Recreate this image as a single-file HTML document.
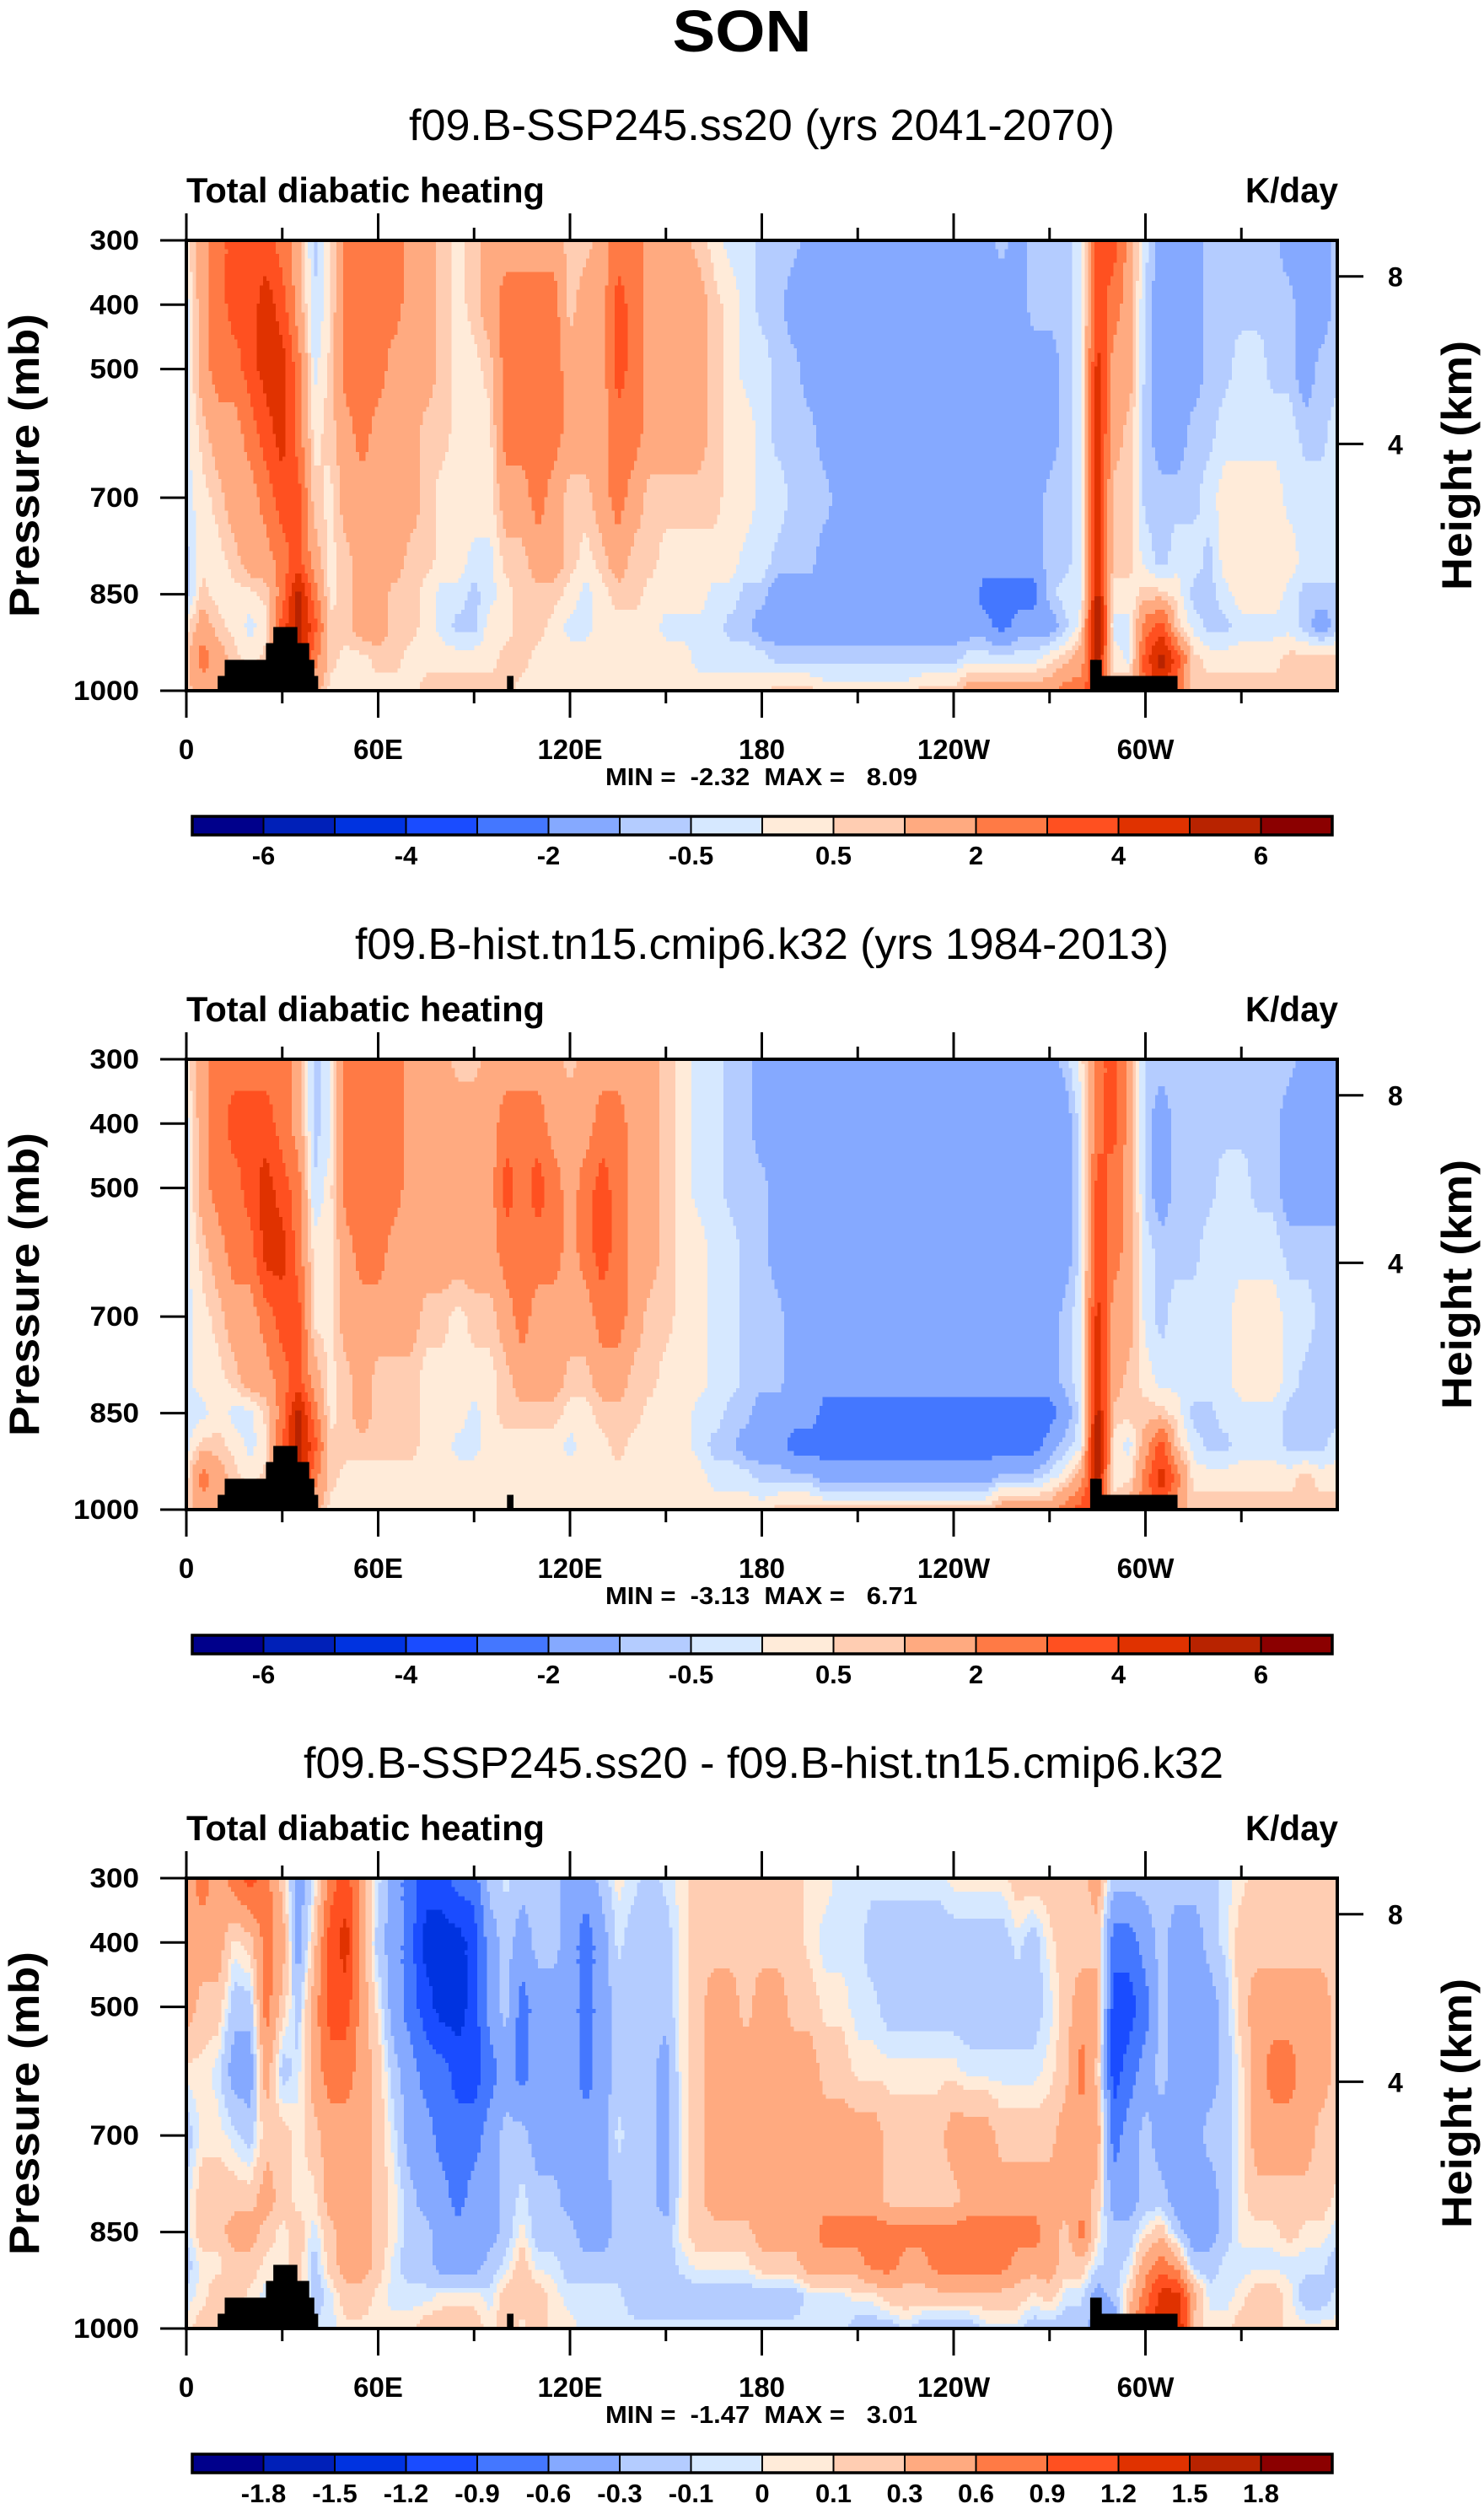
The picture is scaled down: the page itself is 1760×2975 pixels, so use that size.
<!DOCTYPE html>
<html><head><meta charset="utf-8"><title>SON Total diabatic heating</title>
<style>
html,body{margin:0;padding:0;background:#fff;}
svg{display:block;}
text{font-family:"Liberation Sans",Arial,sans-serif;fill:#000;}
</style></head>
<body>
<svg id="fig" xmlns="http://www.w3.org/2000/svg" width="1760" height="2975" viewBox="0 0 1760 2975">
<rect x="0" y="0" width="1760" height="2975" fill="#fff"/>
<text x="880" y="61" font-size="70" font-weight="bold" text-anchor="middle" textLength="165" lengthAdjust="spacingAndGlyphs">SON</text>
</svg>
<script>
// ---------- data ----------
const LEVELS = [300,400,500,600,700,800,850,900,950,1000];
const LON_STEP = 5; // columns at 0,5,...,360
const BOUNDS_ABS = [-6,-5,-4,-3,-2,-1,-0.5,0,0.5,1,2,3,4,5,6];
const BOUNDS_DIFF = [-1.8,-1.5,-1.2,-0.9,-0.6,-0.3,-0.1,0,0.1,0.3,0.6,0.9,1.2,1.5,1.8];
const ABS_LABEL_IDX = [0,2,4,6,8,10,12,14];
const X_TICK_LONS = [0,60,120,180,240,300];
const X_TICK_LABELS = ["0","60E","120E","180","120W","60W"];
const Y_TICKS = [300,400,500,700,850,1000];
const H_TICKS = [8,4];
const COLORS = ["#00008b","#0020b8","#0033e0","#1a4cff","#4477ff","#85a9ff","#b4ccff","#d6e8ff","#ffebd9","#ffcdb2","#ffaa80","#ff7a45","#ff5020","#e03200","#b82300","#8b0000"];
// topography: [lonStart, lonEnd, topPressure]
const TOPO_LON0 = [9.8,12,24.9,27.2,34.6,38.3,39.9,100.3,282.7,286.2];
const TOPO_LON1 = [12,24.9,27.2,34.6,38.3,39.9,41.1,102.2,286.2,309.9];
const TOPO_P = [977,952,926,901,926,952,977,977,952,977];

// columns: each entry = values at LEVELS (300..1000), longitudes 0..360 step 5
const FUT = [
[0.3,-0.2,-0.2,-0.2,-0.2,-0.7,-0.7,0.3,0.7,0.7],
[1.5,1.5,1.5,0.7,0.3,0.3,0.7,1.5,2.5,1.5],
[2.5,2.5,2.5,1.5,0.7,0.3,0.3,0.7,1.5,1.5],
[3.5,3.5,2.5,1.5,1.5,0.7,0.3,0.3,0.7,0.7],
[3.5,3.5,3.5,2.5,1.5,1.5,0.3,-0.2,0.3,0.7],
[3.5,4.5,4.5,3.5,2.5,1.5,0.7,0.3,0.7,0.7],
[2.5,3.5,4.5,4.5,3.5,2.5,2.5,3.5,3.5,3],
[1.5,1.5,2.5,2.5,3.5,3.5,5.5,5.5,5.5,4.5],
[-0.7,-0.5,-0.2,0.3,0.7,1.5,2.5,3.5,2.5,1.5],
[0.3,0.3,0.7,0.7,0.3,0.3,0.3,0.7,0.7,0.3],
[2.5,2.5,2.5,1.5,1.5,0.7,0.7,0.7,0.3,0.3],
[2.5,2.5,2.5,2.5,1.5,1.5,1.5,1.5,0.3,0.3],
[2.5,2.5,2.5,1.5,1.5,1.5,1.5,1.5,0.7,0.3],
[2.5,2.5,1.5,1.5,1.5,1.5,0.7,0.7,0.7,0.3],
[1.5,1.5,1.5,1.5,1.5,0.7,0.7,0.7,0.3,0.3],
[1.5,1.5,1.5,0.7,0.7,0.7,0.3,0.3,0.3,0.7],
[0.7,0.7,0.7,0.7,0.3,0.3,-0.2,-0.2,0.3,0.7],
[0.3,0.3,0.3,0.3,0.3,0.3,-0.2,-0.7,0.3,0.7],
[0.7,0.7,0.3,0.3,0.3,-0.2,-0.7,-0.7,0.3,0.7],
[1.5,1.5,0.7,0.3,0.3,-0.2,-0.2,0.3,0.3,0.7],
[1.5,2.5,2.5,2.5,1.5,0.7,0.3,0.3,0.7,0.7],
[1.5,2.5,2.5,2.5,1.5,0.7,0.7,0.7,0.7,0.3],
[1.5,2.5,2.5,2.5,2.5,1.5,0.7,0.7,0.3,0.3],
[1.5,2.5,2.5,2.5,1.5,1.5,0.7,0.3,0.3,0.3],
[0.7,0.7,1.5,1.5,0.7,0.7,0.3,-0.2,0.3,0.3],
[0.7,1.5,1.5,1.5,0.7,0.3,-0.2,-0.2,0.3,0.3],
[1.5,1.5,1.5,1.5,1.5,0.7,0.3,0.3,0.3,0.3],
[2.5,3.5,3.5,2.5,2.5,1.5,0.7,0.3,0.3,0.3],
[2.5,2.5,2.5,2.5,1.5,0.7,0.7,0.3,0.3,0.3],
[1.5,1.5,1.5,1.5,0.7,0.7,0.3,0.3,0.3,0.3],
[1.5,1.5,1.5,1.5,0.7,0.3,0.3,-0.2,0.3,0.3],
[1.5,1.5,1.5,1.5,0.7,0.3,0.3,-0.2,0.3,0.3],
[0.7,1.5,1.5,1.5,0.7,0.3,0.3,-0.2,-0.2,0.3],
[0.3,0.7,0.7,0.7,0.7,0.3,-0.2,-0.2,-0.2,0.3],
[-0.2,0.3,0.3,0.3,0.3,0.3,-0.2,-0.7,-0.2,0.3],
[-0.2,-0.2,-0.2,0.3,0.3,-0.2,-0.7,-0.7,-0.2,0.3],
[-0.7,-0.7,-0.2,-0.2,-0.2,-0.2,-0.7,-1.5,-0.2,0.3],
[-0.7,-0.7,-0.7,-0.7,-0.2,-0.7,-1.5,-1.5,-0.7,0.7],
[-0.7,-1.5,-0.7,-0.7,-0.7,-0.7,-1.5,-1.5,-0.7,0.7],
[-1.5,-1.5,-1.5,-0.7,-0.7,-0.7,-1.5,-1.5,-0.7,0.7],
[-1.5,-1.5,-1.5,-1.5,-0.7,-1.5,-1.5,-1.5,-0.7,0.3],
[-1.5,-1.5,-1.5,-1.5,-1.5,-1.5,-1.5,-1.5,-0.7,0.3],
[-1.5,-1.5,-1.5,-1.5,-1.5,-1.5,-1.5,-1.5,-0.7,0.3],
[-1.5,-1.5,-1.5,-1.5,-1.5,-1.5,-1.5,-1.5,-0.7,0.3],
[-1.5,-1.5,-1.5,-1.5,-1.5,-1.5,-1.5,-1.5,-0.7,0.3],
[-1.5,-1.5,-1.5,-1.5,-1.5,-1.5,-1.5,-1.5,-0.7,0.3],
[-1.5,-1.5,-1.5,-1.5,-1.5,-1.5,-1.5,-1.5,-0.7,0.7],
[-1.5,-1.5,-1.5,-1.5,-1.5,-1.5,-1.5,-1.5,-0.7,0.7],
[-1.5,-1.5,-1.5,-1.5,-1.5,-1.5,-1.5,-1.5,-0.7,0.7],
[-1.5,-1.5,-1.5,-1.5,-1.5,-1.5,-1.5,-1.5,-0.2,1.5],
[-1.5,-1.5,-1.5,-1.5,-1.5,-1.5,-2.5,-1.5,-0.2,1.5],
[-0.7,-1.5,-1.5,-1.5,-1.5,-1.5,-2.5,-2.5,-0.2,1.5],
[-1.5,-1.5,-1.5,-1.5,-1.5,-1.5,-2.5,-1.5,-0.2,1.5],
[-0.7,-0.7,-1.5,-1.5,-1.5,-1.5,-2.5,-1.5,-0.2,1.5],
[-0.7,-0.7,-1.5,-1.5,-0.7,-0.7,-0.7,-1.5,0.3,1.5],
[-0.7,-0.7,-0.7,-0.7,-0.7,-0.7,-0.2,-0.7,0.7,2.5],
[-0.2,-0.2,-0.2,-0.2,-0.2,-0.2,-0.2,0.3,1.5,2.5],
[3.5,3.5,4.5,4.5,4.5,4.5,5.5,6.5,5.5,4.5],
[3.5,2.5,1.5,1.5,0.7,0.7,0.3,-0.2,0.3,0.7],
[1.5,1.5,1.5,0.7,0.7,0.7,0.3,-0.2,-0.2,1.5],
[-0.2,-0.7,-0.7,-0.7,-0.7,-0.2,0.7,2.5,3.5,3],
[-1.5,-1.5,-1.5,-1.5,-0.7,-0.7,0.7,3.5,5.5,4.5],
[-1.5,-1.5,-1.5,-1.5,-0.7,-0.2,0.3,0.7,3.5,2.5],
[-1.5,-1.5,-1.5,-0.7,-0.7,-0.2,-0.7,-0.2,0.7,0.7],
[-0.7,-0.7,-0.7,-0.7,-0.2,-0.7,-0.7,-0.7,0.3,0.7],
[-0.7,-0.7,-0.7,-0.2,0.3,0.3,-0.2,-0.7,0.3,0.7],
[-0.7,-0.7,-0.2,-0.2,0.3,0.3,0.3,-0.2,0.3,0.7],
[-0.7,-0.7,-0.2,-0.2,0.3,0.3,0.3,-0.2,0.3,0.7],
[-0.7,-0.7,-0.7,-0.2,0.3,0.3,0.3,-0.2,0.3,0.7],
[-1.5,-0.7,-0.7,-0.2,-0.2,0.3,-0.2,-0.2,0.7,0.7],
[-1.5,-1.5,-1.5,-0.7,-0.2,-0.2,-0.7,-0.7,0.7,0.7],
[-1.5,-1.5,-0.7,-0.7,-0.2,-0.2,-0.7,-1.5,0.7,0.7],
[-0.7,-0.7,-0.7,-0.2,-0.2,-0.2,-0.7,-0.7,0.7,0.7]
];
const HIST = [
[0.3,-0.2,-0.2,-0.2,-0.2,-0.2,-0.2,-0.2,0.3,0.7],
[1.5,1.5,1.5,0.7,0.3,0.3,-0.2,0.7,2.5,1.5],
[2.5,2.5,2.5,1.5,0.7,0.3,0.3,0.7,1.5,1.5],
[2.5,3.5,2.5,2.5,1.5,0.7,-0.2,0.3,0.7,0.7],
[2.5,3.5,3.5,2.5,1.5,1.5,-0.2,-0.2,0.3,0.7],
[2.5,3.5,4.5,4.5,2.5,1.5,0.7,0.3,0.7,0.7],
[2.5,2.5,3.5,4.5,3.5,2.5,2.5,3,3.5,3],
[1.5,1.5,2.5,2.5,3.5,3.5,5.5,5.5,5.5,4.5],
[-0.7,-0.7,-0.5,0.3,0.3,1.5,2.5,3.5,2.5,1.5],
[-0.2,-0.2,0.3,0.3,0.3,0.3,0.3,0.7,0.7,0.3],
[2.5,2.5,2.5,1.5,1.5,0.7,0.7,0.7,0.3,0.3],
[2.5,2.5,2.5,2.5,1.5,1.5,1.5,0.7,0.3,0.3],
[2.5,2.5,2.5,2.5,1.5,0.7,0.7,0.7,0.3,0.3],
[2.5,2.5,2.5,1.5,1.5,0.7,0.7,0.7,0.3,0.3],
[1.5,1.5,1.5,1.5,1.5,0.7,0.7,0.7,0.3,0.3],
[1.5,1.5,1.5,1.5,0.7,0.3,0.3,0.3,0.3,0.3],
[1.5,1.5,1.5,1.5,0.7,0.3,0.3,0.3,0.3,0.3],
[0.7,1.5,1.5,1.5,0.3,0.3,0.3,-0.2,0.3,0.3],
[0.7,1.5,1.5,1.5,0.7,0.3,-0.2,-0.2,0.3,0.3],
[1.5,1.5,1.5,1.5,0.7,0.3,0.3,0.3,0.3,0.3],
[1.5,2.5,3.5,2.5,1.5,0.7,0.7,0.3,0.3,0.3],
[1.5,2.5,2.5,2.5,2.5,1.5,0.7,0.3,0.3,0.3],
[1.5,2.5,3.5,2.5,1.5,1.5,0.7,0.3,0.3,0.3],
[1.5,1.5,2.5,2.5,1.5,1.5,0.7,0.3,0.3,0.3],
[0.7,1.5,1.5,1.5,1.5,0.7,0.3,-0.2,0.3,0.3],
[1.5,1.5,2.5,2.5,1.5,0.7,0.3,0.3,0.3,0.3],
[1.5,2.5,3.5,3.5,2.5,1.5,0.7,0.3,0.3,0.3],
[1.5,2.5,2.5,2.5,2.5,1.5,0.7,0.7,0.3,0.3],
[1.5,1.5,1.5,1.5,1.5,0.7,0.7,0.3,0.3,0.3],
[1.5,1.5,1.5,1.5,0.7,0.7,0.3,0.3,0.3,0.3],
[0.7,0.7,0.7,0.7,0.7,0.3,0.3,0.3,0.3,0.3],
[0.3,0.3,0.3,0.3,0.3,0.3,0.3,0.3,0.3,0.3],
[-0.2,-0.2,-0.2,0.3,0.3,0.3,-0.2,-0.2,0.3,0.3],
[-0.2,-0.2,-0.2,-0.2,-0.2,-0.2,-0.2,-0.7,-0.2,0.3],
[-0.7,-0.7,-0.7,-0.2,-0.2,-0.2,-0.7,-0.7,-0.2,0.3],
[-0.7,-0.7,-0.7,-0.7,-0.7,-0.7,-0.7,-1.5,-0.2,0.3],
[-1.5,-1.5,-0.7,-0.7,-0.7,-0.7,-1.5,-1.5,-0.7,0.3],
[-1.5,-1.5,-1.5,-1.5,-0.7,-0.7,-1.5,-1.5,-0.7,0.7],
[-1.5,-1.5,-1.5,-1.5,-1.5,-1.5,-1.5,-2.5,-0.7,0.7],
[-1.5,-1.5,-1.5,-1.5,-1.5,-1.5,-1.5,-2.5,-0.7,0.7],
[-1.5,-1.5,-1.5,-1.5,-1.5,-1.5,-2.5,-2.5,-1.5,0.7],
[-1.5,-1.5,-1.5,-1.5,-1.5,-1.5,-2.5,-2.5,-1.5,0.7],
[-1.5,-1.5,-1.5,-1.5,-1.5,-1.5,-2.5,-2.5,-1.5,0.7],
[-1.5,-1.5,-1.5,-1.5,-1.5,-1.5,-2.5,-2.5,-1.5,0.7],
[-1.5,-1.5,-1.5,-1.5,-1.5,-1.5,-2.5,-2.5,-1.5,0.7],
[-1.5,-1.5,-1.5,-1.5,-1.5,-1.5,-2.5,-2.5,-1.5,0.7],
[-1.5,-1.5,-1.5,-1.5,-1.5,-1.5,-2.5,-2.5,-1.5,0.7],
[-1.5,-1.5,-1.5,-1.5,-1.5,-1.5,-2.5,-2.5,-1.5,0.7],
[-1.5,-1.5,-1.5,-1.5,-1.5,-1.5,-2.5,-2.5,-1.5,0.7],
[-1.5,-1.5,-1.5,-1.5,-1.5,-1.5,-2.5,-2.5,-1.5,0.7],
[-1.5,-1.5,-1.5,-1.5,-1.5,-1.5,-2.5,-2.5,-1.5,0.7],
[-1.5,-1.5,-1.5,-1.5,-1.5,-1.5,-2.5,-2.5,-0.7,1.5],
[-1.5,-1.5,-1.5,-1.5,-1.5,-1.5,-2.5,-2.5,-0.7,1.5],
[-1.5,-1.5,-1.5,-1.5,-1.5,-1.5,-2.5,-2.5,-0.7,1.5],
[-1.5,-1.5,-1.5,-1.5,-1.5,-1.5,-2.5,-1.5,-0.2,1.5],
[-0.7,-1.5,-1.5,-1.5,-0.7,-0.7,-1.5,-0.7,0.3,2.5],
[0.3,-0.2,-0.2,-0.2,-0.2,-0.2,-0.2,-0.2,1.5,3.5],
[2.5,2.5,3.5,3.5,4.5,4.5,5.5,6.5,5.5,4.5],
[3.5,3.5,2.5,2.5,1.5,1.5,0.7,0.3,0.3,0.7],
[1.5,1.5,1.5,1.5,1.5,0.7,0.7,-0.2,0.3,1.5],
[-0.7,-0.7,-0.7,-0.2,-0.2,0.3,0.7,1.5,2.5,2.5],
[-0.7,-1.5,-1.5,-0.7,-0.7,-0.2,0.7,3.5,4.5,3.5],
[-0.7,-0.7,-0.7,-0.7,-0.2,-0.2,0.3,0.7,2.5,1.5],
[-0.7,-0.7,-0.7,-0.7,-0.2,-0.2,-0.7,-0.2,0.3,0.7],
[-0.7,-0.7,-0.7,-0.2,-0.2,-0.2,-0.7,-0.7,0.3,0.7],
[-0.7,-0.7,-0.2,-0.2,-0.2,-0.2,-0.2,-0.7,0.3,0.7],
[-0.7,-0.7,-0.2,-0.2,0.3,0.3,-0.2,-0.2,0.3,0.7],
[-0.7,-0.7,-0.7,-0.2,0.3,0.3,-0.2,-0.2,0.3,0.7],
[-0.7,-0.7,-0.7,-0.2,0.3,0.3,-0.2,-0.2,0.3,0.7],
[-0.7,-1.5,-1.5,-0.7,-0.2,-0.2,-0.7,-0.7,0.3,0.7],
[-1.5,-1.5,-1.5,-0.7,-0.2,-0.7,-0.7,-0.7,0.7,0.7],
[-1.5,-1.5,-1.5,-0.7,-0.7,-0.7,-0.7,-0.7,0.3,0.7],
[-1.5,-1.5,-1.5,-0.7,-0.7,-0.7,-0.7,-0.2,0.3,0.7]
];
const DIFF = [
[0.45,0.45,0.45,0.05,-0.2,-0.05,-0.05,-0.2,-0.05,0.05],
[0.75,0.45,0.2,0.05,0.05,0.2,0.2,0.05,0.05,0.2],
[0.45,0.45,0.2,-0.05,0.05,0.2,0.2,0.05,0.2,0.2],
[0.75,0.05,-0.2,-0.45,-0.05,0.2,0.45,0.2,0.2,0.2],
[1.05,0.2,-0.2,-0.45,-0.2,0.2,0.45,0.2,0.05,0.05],
[0.75,0.75,0.75,0.45,0.2,0.45,0.2,0.05,-0.05,0.05],
[0.2,0.45,0.2,-0.2,0.2,0.2,0.05,0.05,0.05,0.2],
[-0.45,-0.45,-0.2,-0.05,0.05,0.05,0.2,0.2,0.2,0.2],
[-0.05,0.2,0.45,0.45,0.2,0.05,-0.05,-0.2,-0.2,-0.05],
[0.75,1.05,1.05,0.75,0.45,0.45,0.2,0.2,-0.05,-0.05],
[1.05,1.35,1.05,0.75,0.45,0.45,0.45,0.45,0.2,0.05],
[0.45,0.45,0.45,0.45,0.45,0.45,0.45,0.45,0.2,0.05],
[-0.05,-0.2,0.05,0.2,0.2,0.2,0.2,0.2,0.05,0.05],
[-0.45,-0.45,-0.45,-0.2,-0.05,0.05,0.05,-0.05,-0.05,0.05],
[-0.75,-0.75,-0.75,-0.45,-0.45,-0.2,-0.2,-0.2,-0.05,0.05],
[-1.05,-1.35,-1.05,-0.75,-0.45,-0.45,-0.2,-0.2,-0.05,0.2],
[-1.05,-1.35,-1.35,-0.75,-0.75,-0.45,-0.45,-0.45,0.05,0.2],
[-0.75,-1.35,-1.35,-1.05,-0.75,-0.75,-0.45,-0.45,0.05,0.2],
[-0.75,-1.05,-1.05,-1.05,-0.75,-0.45,-0.45,-0.45,0.05,0.2],
[-0.2,-0.45,-0.45,-0.75,-0.45,-0.45,-0.45,-0.2,-0.05,0.05],
[-0.05,-0.2,-0.2,-0.45,-0.2,-0.2,-0.2,-0.05,0.2,0.2],
[-0.2,-0.45,-0.75,-0.75,-0.2,-0.05,0.05,0.2,0.2,0.05],
[-0.2,-0.2,-0.45,-0.45,-0.45,-0.2,-0.2,-0.05,0.2,0.2],
[-0.2,-0.2,-0.45,-0.45,-0.45,-0.2,-0.2,-0.05,0.05,0.05],
[-0.45,-0.45,-0.45,-0.45,-0.45,-0.45,-0.2,-0.2,-0.05,0.05],
[-0.45,-0.75,-0.75,-0.75,-0.45,-0.45,-0.45,-0.2,-0.05,-0.05],
[-0.2,-0.45,-0.45,-0.45,-0.45,-0.45,-0.45,-0.2,-0.05,-0.05],
[0.05,-0.05,-0.2,-0.2,-0.05,-0.2,-0.2,-0.2,-0.05,-0.05],
[-0.05,-0.2,-0.2,-0.2,-0.2,-0.2,-0.2,-0.2,-0.2,-0.05],
[-0.2,-0.2,-0.2,-0.2,-0.2,-0.2,-0.2,-0.2,-0.2,-0.05],
[-0.05,-0.2,-0.2,-0.45,-0.45,-0.45,-0.2,-0.2,-0.2,-0.05],
[0.05,0.05,0.05,0.05,0.05,0.05,0.05,-0.05,-0.2,-0.05],
[0.2,0.2,0.2,0.2,0.2,0.2,0.2,0.05,-0.2,-0.05],
[0.2,0.2,0.45,0.45,0.45,0.45,0.2,0.05,-0.2,-0.05],
[0.2,0.2,0.45,0.45,0.45,0.45,0.2,0.05,-0.2,-0.05],
[0.2,0.2,0.2,0.45,0.45,0.45,0.2,0.05,-0.2,-0.05],
[0.2,0.2,0.45,0.45,0.45,0.45,0.45,0.2,-0.2,-0.05],
[0.2,0.2,0.45,0.45,0.45,0.45,0.45,0.2,-0.2,-0.05],
[0.2,0.2,0.2,0.45,0.45,0.45,0.45,0.2,-0.2,-0.05],
[0.05,0.05,0.2,0.45,0.45,0.45,0.45,0.45,-0.05,-0.05],
[0.05,-0.05,0.05,0.2,0.45,0.45,0.75,0.45,-0.05,-0.05],
[-0.05,-0.05,0.05,0.2,0.45,0.45,0.75,0.45,-0.05,-0.05],
[-0.05,-0.05,-0.05,0.05,0.45,0.45,0.75,0.45,0.05,-0.2],
[-0.05,-0.2,-0.05,0.05,0.45,0.45,0.75,0.75,0.05,-0.2],
[-0.05,-0.2,-0.2,0.05,0.2,0.2,0.75,0.75,0.2,-0.2],
[-0.05,-0.2,-0.2,0.05,0.2,0.2,0.75,0.45,0.2,-0.05],
[-0.05,-0.2,-0.2,0.05,0.2,0.2,0.75,0.45,0.2,-0.2],
[-0.05,-0.2,-0.2,0.05,0.2,0.2,0.75,0.75,0.2,-0.2],
[0.05,-0.2,-0.2,0.05,0.45,0.2,0.75,0.75,0.2,-0.2],
[0.05,-0.2,-0.2,-0.05,0.45,0.45,0.75,0.75,0.2,-0.2],
[0.05,-0.2,-0.2,-0.05,0.45,0.45,0.75,0.75,0.2,-0.05],
[0.05,-0.2,-0.2,-0.05,0.2,0.45,0.75,0.75,0.2,-0.05],
[0.2,-0.05,-0.2,-0.05,0.2,0.45,0.75,0.45,0.2,-0.05],
[0.2,-0.2,-0.2,-0.05,0.2,0.45,0.75,0.45,0.05,-0.2],
[0.2,0.05,-0.05,0.05,0.2,0.45,0.45,0.45,0.2,-0.2],
[0.2,0.2,0.2,0.2,0.45,0.45,0.2,0.2,-0.05,-0.2],
[0.2,0.2,0.45,0.75,0.45,0.45,0.75,0.2,-0.05,-0.2],
[0.45,0.2,0.45,0.2,0.45,0.2,0.05,-0.05,-0.45,-0.45],
[-0.2,-0.75,-1.05,-1.05,-0.75,-0.45,-0.2,-0.2,-0.2,-0.75],
[-0.2,-0.75,-1.05,-0.75,-0.45,-0.45,-0.2,-0.05,0.2,0.45],
[-0.2,-0.45,-0.75,-0.45,-0.2,-0.2,0.05,0.45,0.75,1.05],
[-0.2,-0.2,-0.2,-0.2,-0.45,-0.2,0.2,0.75,1.35,1.35],
[-0.2,-0.45,-0.45,-0.45,-0.45,-0.45,-0.2,0.45,1.35,1.65],
[-0.2,-0.45,-0.45,-0.45,-0.45,-0.45,-0.45,-0.2,0.45,0.2],
[-0.2,-0.2,-0.45,-0.45,-0.2,-0.45,-0.45,-0.2,-0.05,0.05],
[-0.05,-0.05,-0.2,-0.2,-0.2,-0.2,-0.2,-0.05,-0.05,0.05],
[0.05,0.2,0.2,0.05,0.05,0.05,0.05,-0.05,0.05,0.2],
[0.2,0.2,0.45,0.45,0.45,0.2,0.05,-0.05,0.2,0.2],
[0.2,0.2,0.45,0.75,0.45,0.2,0.05,-0.05,0.2,0.2],
[0.2,0.2,0.45,0.75,0.45,0.2,0.2,-0.05,0.05,0.05],
[0.2,0.2,0.45,0.45,0.45,0.2,0.05,-0.05,-0.2,0.05],
[0.2,0.2,0.45,0.45,0.2,0.2,0.05,-0.05,-0.2,0.05],
[0.2,0.2,0.2,0.2,0.2,0.05,-0.05,-0.2,-0.05,0.05]
];
const SUBTITLES = ["f09.B-SSP245.ss20 (yrs 2041-2070)","f09.B-hist.tn15.cmip6.k32 (yrs 1984-2013)","f09.B-SSP245.ss20 - f09.B-hist.tn15.cmip6.k32"];
const SUB_X0 = [485,421,360];
const SUB_X1 = [1322,1386,1451];
const MINMAX = ["MIN =  -2.32  MAX =   8.09","MIN =  -3.13  MAX =   6.71","MIN =  -1.47  MAX =   3.01"];

// ---------- layout ----------
const NS = "http://www.w3.org/2000/svg";
const svg = document.getElementById('fig');
const PL = 221, PR = 1586, PT0 = 285, PH = 534, DY = 971;
const CBL = 228, CBR = 1580, CBT0 = 968, CBH = 22;
function xs(lon){ return PL + lon/360*(PR-PL); }
function ys(p,k){ return PT0 + k*DY + (p-300)/700*PH; }
function pFromH(h){ return 1013.25*Math.pow(1-2.25577e-5*h*1000,5.25588); }
function el(tag, attrs, parent){ const e=document.createElementNS(NS,tag); for(const a in attrs) e.setAttribute(a,attrs[a]); (parent||svg).appendChild(e); return e; }
function colorFor(v,b){ let k=0; while(k<b.length && v>=b[k]) k++; return COLORS[k]; }
function sample(data,lon,p){
  let fi=lon/LON_STEP; let i=Math.min(Math.floor(fi),data.length-2); let tx=fi-i;
  let j=0; while(j<LEVELS.length-2 && p>LEVELS[j+1]) j++;
  let ty=(p-LEVELS[j])/(LEVELS[j+1]-LEVELS[j]);
  const a=data[i][j], b=data[i+1][j], c=data[i][j+1], d=data[i+1][j+1];
  return (a*(1-tx)+b*tx)*(1-ty)+(c*(1-tx)+d*tx)*ty;
}

const DATASETS=[FUT,HIST,DIFF];
const BOUNDS=[BOUNDS_ABS,BOUNDS_ABS,BOUNDS_DIFF];

for(let k=0;k<3;k++){
  const g=el('g',{});
  
  
  const data=DATASETS[k], bnd=BOUNDS[k];
  const st=el('text',{x:(SUB_X0[k]+SUB_X1[k])/2,y:166+k*DY,'font-size':52,'text-anchor':'middle',textLength:SUB_X1[k]-SUB_X0[k],lengthAdjust:'spacingAndGlyphs'},g);
  st.textContent=SUBTITLES[k];
  
  
  const lt=el('text',{x:PL,y:240+k*DY,'font-size':42,'font-weight':'bold',textLength:425,lengthAdjust:'spacingAndGlyphs'},g);
  lt.textContent='Total diabatic heating';
  
  
  const rt=el('text',{x:PR+1,y:240+k*DY,'font-size':42,'font-weight':'bold','text-anchor':'end',textLength:110,lengthAdjust:'spacingAndGlyphs'},g);
  rt.textContent='K/day';
  
  
  const fg=el('g',{'shape-rendering':'crispEdges'},g);
  
  
  const dLon=1, dP=7;
  for(let p0=300;p0<1000;p0+=dP){
    const pc=Math.min(p0+dP/2,1000);
    let runStart=0, runCol=null;
    for(let l=0;l<=360;l+=dLon){
      let col=null;
      if(l<360) col=colorFor(sample(data,l+dLon/2,pc),bnd);
      if(col!==runCol){
        if(runCol!==null){
          const y0=ys(p0,k), y1=ys(Math.min(p0+dP,1000),k);
          const r=el('rect',{x:xs(runStart).toFixed(1),y:y0.toFixed(1),width:(xs(l)-xs(runStart)+0.6).toFixed(1),height:(y1-y0+0.6).toFixed(1),fill:runCol},fg);
          
          
        }
        runStart=l; runCol=col;
      }
    }
  }
  for(let t=0;t<TOPO_P.length;t++){
    const y0=ys(TOPO_P[t],k);
    const r=el('rect',{x:xs(TOPO_LON0[t]),y:y0,width:xs(TOPO_LON1[t])-xs(TOPO_LON0[t])+0.5,height:ys(1000,k)-y0,fill:'#000'},g);
    
    
  }
  const fr=el('rect',{x:PL,y:ys(300,k),width:PR-PL,height:PH,fill:'none',stroke:'#000','stroke-width':4},g);
  
  
  for(let lon=0;lon<=330;lon+=30){
    const major=lon%60===0, len=major?32:15, x=xs(lon);
    const t1=el('line',{x1:x,x2:x,y1:ys(300,k),y2:ys(300,k)-len,stroke:'#000','stroke-width':3},g);
    
    
    const t2=el('line',{x1:x,x2:x,y1:ys(1000,k),y2:ys(1000,k)+len,stroke:'#000','stroke-width':3},g);
    
    
  }
  X_TICK_LONS.forEach((lon,i)=>{
    const tx=el('text',{x:xs(lon),y:900+k*DY,'font-size':33,'font-weight':'bold','text-anchor':'middle'},g);
    tx.textContent=X_TICK_LABELS[i];
    
    
  });
  Y_TICKS.forEach(p=>{
    const y=ys(p,k);
    const tl=el('line',{x1:PL,x2:PL-31,y1:y,y2:y,stroke:'#000','stroke-width':3},g);
    
    
    const s=String(p);
    const tx=el('text',{x:165,y:y+11,'font-size':32,'font-weight':'bold','text-anchor':'end',textLength:s.length*19.5,lengthAdjust:'spacingAndGlyphs'},g);
    tx.textContent=s;
    
    
  });
  H_TICKS.forEach(h=>{
    const y=ys(pFromH(h),k);
    const tl=el('line',{x1:PR,x2:PR+31,y1:y,y2:y,stroke:'#000','stroke-width':3},g);
    
    
    const tx=el('text',{x:1646,y:y+12,'font-size':32,'font-weight':'bold'},g);
    tx.textContent=String(h);
    
    
  });
  const cy=ys(650,k);
  const ya=el('text',{x:0,y:0,'font-size':50,'font-weight':'bold','text-anchor':'middle',textLength:360,lengthAdjust:'spacingAndGlyphs',transform:`translate(46,${cy}) rotate(-90)`},g);
  ya.textContent='Pressure (mb)';
  
  
  const yb=el('text',{x:0,y:0,'font-size':50,'font-weight':'bold','text-anchor':'middle',textLength:296,lengthAdjust:'spacingAndGlyphs',transform:`translate(1745,${cy}) rotate(-90)`},g);
  yb.textContent='Height (km)';
  
  
  const mm=el('text',{x:903,y:931+k*DY,'font-size':29,'font-weight':'bold','text-anchor':'middle',textLength:370,lengthAdjust:'spacingAndGlyphs',style:'white-space:pre'},g);
  mm.textContent=MINMAX[k];
  
  
  const cb=el('g',{},g);
  
  
  const cbt=CBT0+k*DY, bw=(CBR-CBL)/COLORS.length;
  COLORS.forEach((c,i)=>{
    const r=el('rect',{x:CBL+i*bw,y:cbt,width:bw,height:CBH,fill:c,stroke:'#000','stroke-width':2},cb);
    
    
  });
  const ob=el('rect',{x:CBL,y:cbt,width:CBR-CBL,height:CBH,fill:'none',stroke:'#000','stroke-width':3.5},cb);
  
  
  const idxs = k<2 ? ABS_LABEL_IDX : bnd.map((v,i)=>i);
  idxs.forEach(i=>{
    const tx=el('text',{x:CBL+(i+1)*bw,y:cbt+CBH+35,'font-size':31,'font-weight':'bold','text-anchor':'middle'},cb);
    tx.textContent=String(bnd[i]);
    
    
  });
}
</script>
</body></html>
